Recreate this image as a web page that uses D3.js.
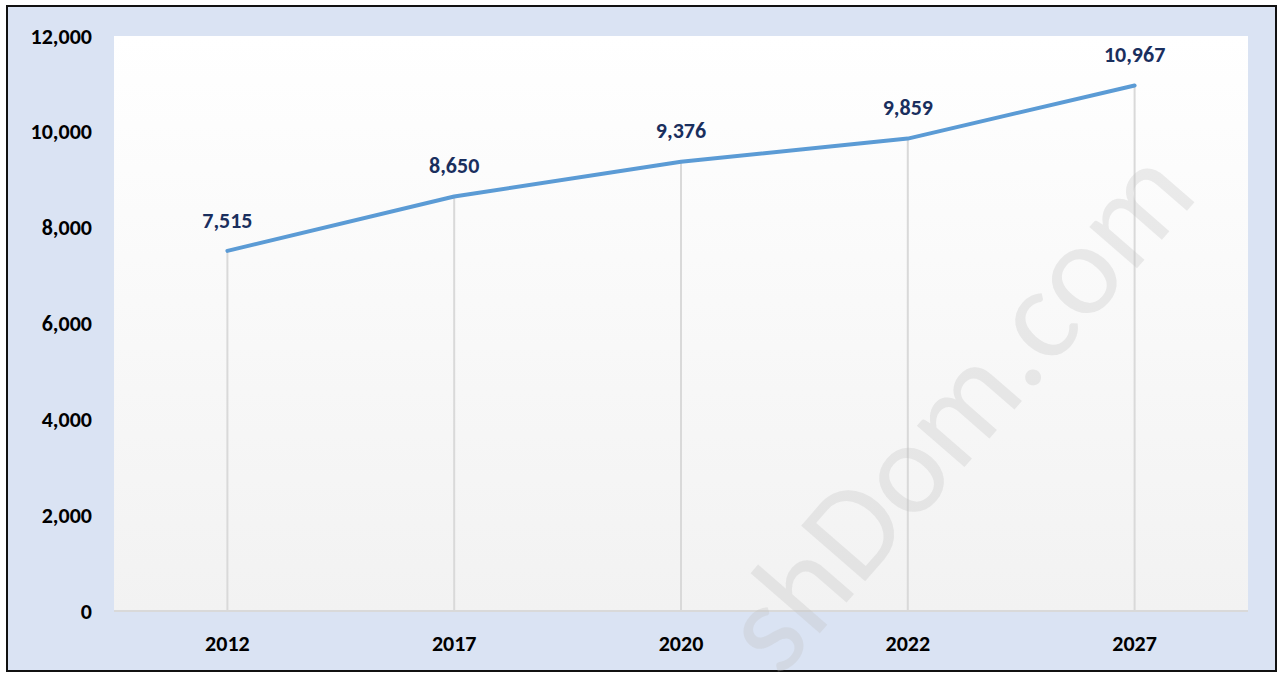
<!DOCTYPE html>
<html>
<head>
<meta charset="utf-8">
<script src="https://cdn.jsdelivr.net/npm/d3@7"></script>
<style>
  html, body { margin: 0; padding: 0; background: #fff; }
  svg { display: block; }
  text { font-family: Calibri, Carlito, "Open Sans", sans-serif; font-weight: bold; }
</style>
</head>
<body>
<div id="chart"></div>
<script>
const years = ['2012', '2017', '2020', '2022', '2027'];
const values = [7515, 8650, 9376, 9859, 10967];
const yTicks = [0, 2000, 4000, 6000, 8000, 10000, 12000];

const W = 1278, H = 673;
const margin = { top: 36, right: 30, bottom: 62, left: 114 };
const width = W - margin.left - margin.right,
  height = H - margin.top - margin.bottom;

const svg = d3.select('#chart').append('svg')
  .attr('width', W)
  .attr('height', H);

const defs = svg.append('defs');
const grad = defs.append('linearGradient')
  .attr('id', 'plotbg').attr('x1', 0).attr('y1', 0).attr('x2', 0).attr('y2', 1);
grad.append('stop').attr('offset', '0%').attr('stop-color', '#ffffff');
grad.append('stop').attr('offset', '100%').attr('stop-color', '#f2f2f2');

// outer frame
svg.append('rect')
  .attr('x', 7).attr('y', 6)
  .attr('width', 1269).attr('height', 665)
  .attr('fill', '#dae3f3')
  .attr('stroke', '#111')
  .attr('stroke-width', 2);

const chart = svg.append('g')
  .attr('transform', 'translate(' + margin.left + ',' + margin.top + ')');

chart.append('rect')
  .attr('width', width).attr('height', height)
  .attr('fill', 'url(#plotbg)');

const x = d3.scaleBand().domain(years).range([0, width]).padding(0);
const y = d3.scaleLinear().domain([0, 12000]).range([height, 0]);
const cx = d => x(d) + x.bandwidth() / 2;

// drop lines
chart.selectAll('.drop')
  .data(years)
  .enter().append('line')
    .attr('class', 'drop')
    .attr('x1', cx).attr('x2', cx)
    .attr('y1', (d, i) => y(values[i]))
    .attr('y2', height)
    .attr('stroke', '#d9d9d9')
    .attr('stroke-width', 2);

// baseline
chart.append('line')
  .attr('x1', 0).attr('x2', width)
  .attr('y1', height).attr('y2', height)
  .attr('stroke', '#d9d9d9')
  .attr('stroke-width', 2);

// y axis labels
const yAxis = d3.axisLeft(y).tickValues(yTicks).tickFormat(d3.format(',')).tickSize(0).tickPadding(22);
const yg = chart.append('g').call(yAxis);
yg.select('.domain').remove();
yg.selectAll('text')
  .attr('fill', '#000')
  .style('font-size', '22px');

// x axis labels
const xAxis = d3.axisBottom(x).tickSize(0).tickPadding(24);
const xg = chart.append('g').attr('transform', 'translate(0,' + height + ')').call(xAxis);
xg.select('.domain').remove();
xg.selectAll('text')
  .attr('fill', '#000')
  .style('font-size', '22px');

// line
const line = d3.line()
  .x((d, i) => cx(years[i]))
  .y(d => y(d));

chart.append('path')
  .datum(values)
  .attr('d', line)
  .attr('fill', 'none')
  .attr('stroke', '#5b9bd5')
  .attr('stroke-width', 4)
  .attr('stroke-linecap', 'round')
  .attr('stroke-linejoin', 'round');

// data labels
chart.selectAll('.lbl')
  .data(values)
  .enter().append('text')
    .attr('class', 'lbl')
    .attr('x', (d, i) => cx(years[i]))
    .attr('y', d => y(d) - 31)
    .attr('dy', '0.35em')
    .attr('text-anchor', 'middle')
    .attr('fill', '#1a2f5e')
    .style('font-size', '22px')
    .text(d3.format(','));

// watermark
svg.append('text')
  .attr('transform', 'translate(1200,196) rotate(-49)')
  .attr('text-anchor', 'end')
  .attr('fill', '#bfbfbf')
  .attr('fill-opacity', 0.3)
  .style('font-size', '132px')
  .style('font-weight', 'normal')
  .text('shDom.com');
</script>
</body>
</html>
